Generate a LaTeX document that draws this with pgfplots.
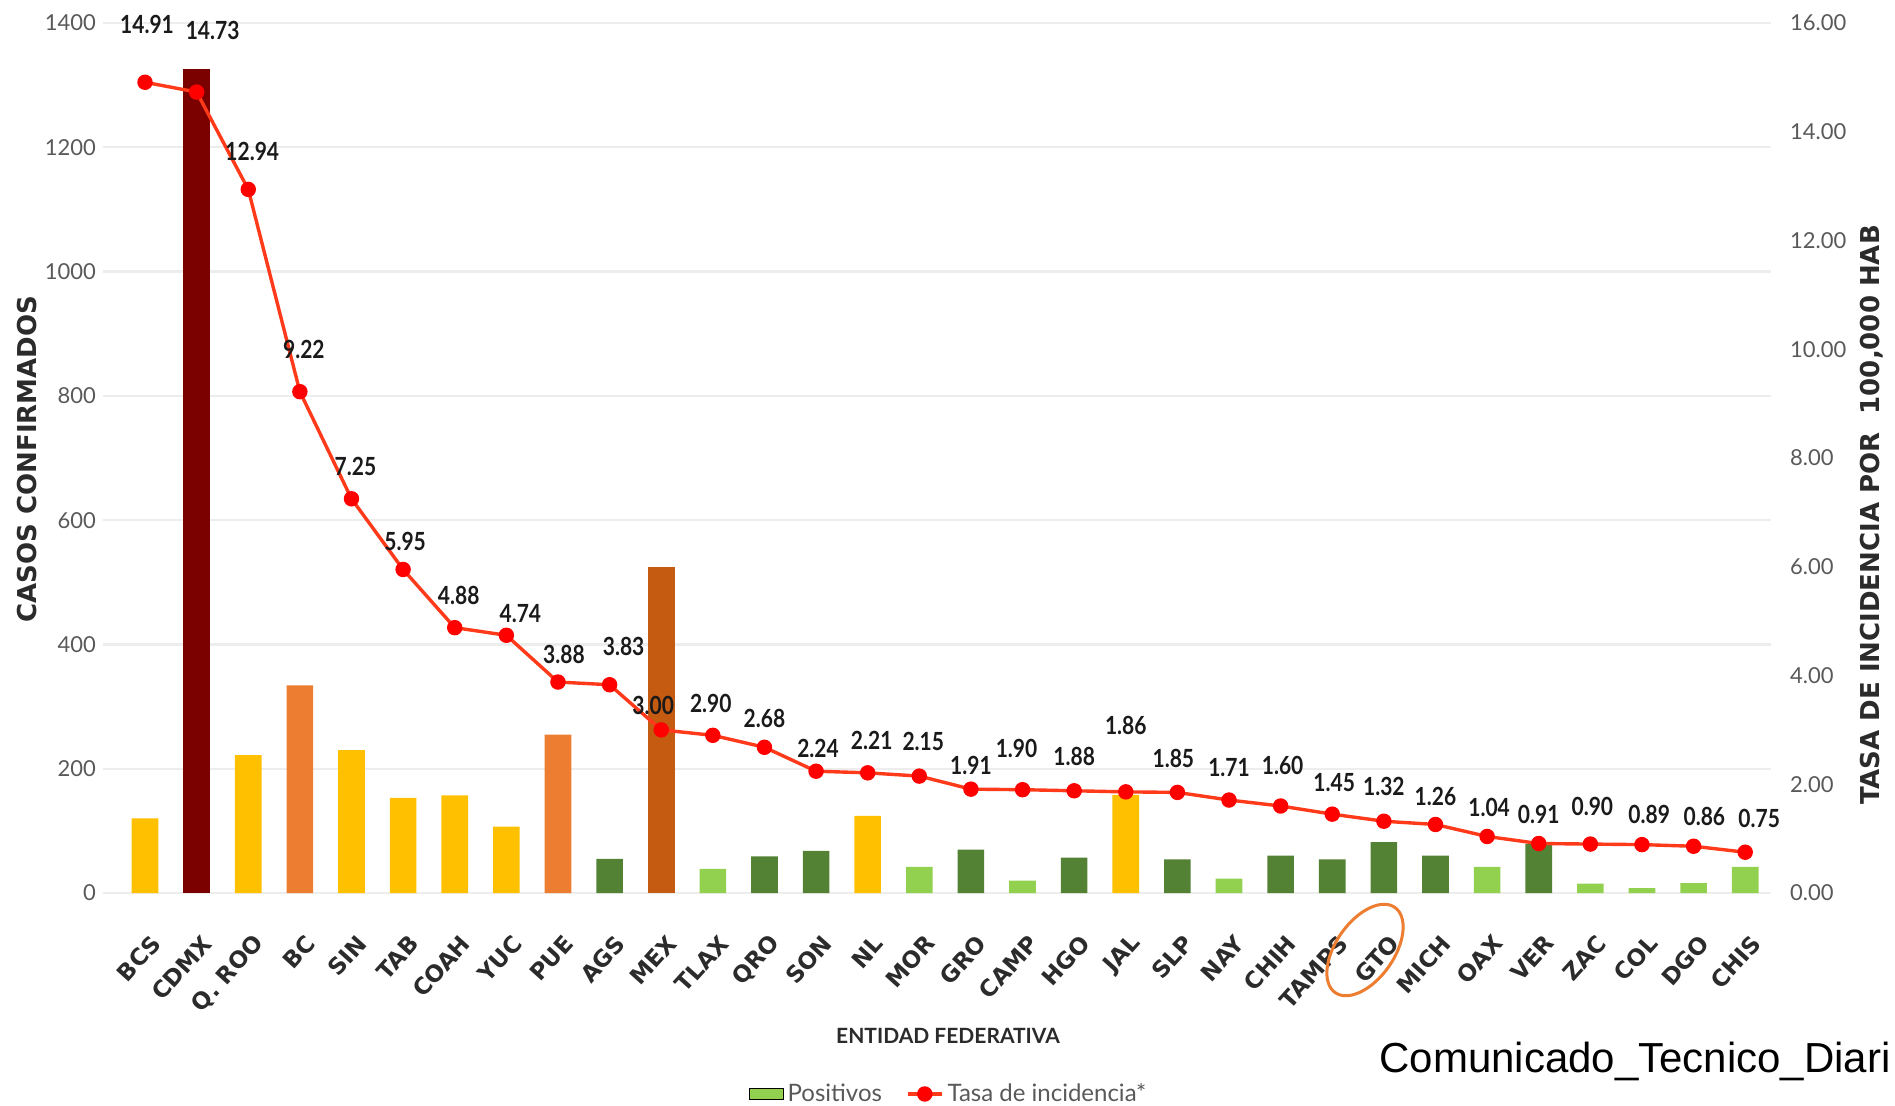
\documentclass[border=0pt]{standalone}
\usepackage{pgfplots}
\pgfplotsset{compat=1.18}
\usepackage{pgfplotstable}
\usepackage{fontspec}
\setmainfont{Lato}
\newfontfamily\condb[FakeStretch=0.84]{Lato}
\newfontfamily\dvs{DejaVu Sans}
\newfontfamily\arial{Liberation Sans}
\definecolor{cYel}{HTML}{FFC000}
\definecolor{cDred}{HTML}{7B0000}
\definecolor{cOra}{HTML}{ED7D31}
\definecolor{cDora}{HTML}{C55A11}
\definecolor{cDgr}{HTML}{548235}
\definecolor{cLgr}{HTML}{92D050}
\definecolor{cLine}{HTML}{FF3A1A}
\definecolor{cMark}{HTML}{FF0000}
\definecolor{cTick}{HTML}{595959}
\definecolor{cGrid}{HTML}{EDEDED}
\definecolor{cLab}{HTML}{1A1A1A}
\definecolor{cTitle}{HTML}{2B2B2B}

\pgfplotstableread{
x y lab dx dy
0 14.91 14.91 1 29
1 14.73 14.73 8 31
2 12.94 12.94 2 19
3 9.22 9.22 2 21
4 7.25 7.25 2 16
5 5.95 5.95 1 14
6 4.88 4.88 2 16
7 4.74 4.74 7 11
8 3.88 3.88 3 14
9 3.83 3.83 7 19
10 3.00 3.00 -4 12
11 2.90 2.90 -1 16
12 2.68 2.68 0 14.5
13 2.24 2.24 1 11.5
14 2.21 2.21 2 16
15 2.15 2.15 2 17.5
16 1.91 1.91 0 12
17 1.90 1.90 -3 20.5
18 1.88 1.88 0 17
19 1.86 1.86 0 33
20 1.85 1.85 -2 17
21 1.71 1.71 0 16
22 1.60 1.60 1 20.5
23 1.45 1.45 1 16
24 1.32 1.32 0 17.5
25 1.26 1.26 0 14
26 1.04 1.04 1 14.5
27 0.91 0.91 0 14.5
28 0.90 0.90 1 19
29 0.89 0.89 3.6 15
30 0.86 0.86 5.4 15
31 0.75 0.75 7 17
}\ratetab

\begin{document}
\begin{tikzpicture}
\path[use as bounding box] (0pt,0pt) rectangle (947.5pt,552.5pt);
\begin{axis}[
  at={(51.5pt,106pt)}, anchor=south west,
  scale only axis, width=834pt, height=435pt,
  xmin=-0.814, xmax=31.5, ymin=0, ymax=1400,
  axis line style={draw=none},
  major tick length=0pt,
  xtick={0,...,31},
  xticklabels={BCS,CDMX,Q. ROO,BC,SIN,TAB,COAH,YUC,PUE,AGS,MEX,TLAX,QRO,SON,NL,MOR,GRO,CAMP,HGO,JAL,SLP,NAY,CHIH,TAMPS,GTO,MICH,OAX,VER,ZAC,COL,DGO,CHIS},
  xticklabel style={rotate=48, anchor=east, font=\dvs\bfseries\fontsize{11.5}{13}\selectfont, text=cTitle, yshift=-19.5pt, xshift=-10pt},
  ytick={0,200,...,1400},
  yticklabels={0,200,400,600,800,1000,1200,1400},
  yticklabel style={font=\fontsize{11}{13}\selectfont, text=cTick},
  ymajorgrids, grid style={cGrid, line width=1.2pt},
  xlabel={ENTIDAD FEDERATIVA},
  every axis x label/.style={at={(axis description cs:0.5066,-0.1640)}, anchor=center, font=\bfseries\fontsize{10.5}{12}\selectfont, text=cTitle},
  ylabel={CASOS CONFIRMADOS},
  every axis y label/.style={at={(axis description cs:-0.0458,0.4989)}, anchor=center, rotate=90, font=\dvs\bfseries\fontsize{13}{15}\selectfont, text=cTitle},
]
\addplot[ybar, bar width=13.3pt, bar shift=0pt, fill=cYel, draw=none] coordinates {(0,120) (2,222) (4,230) (5,153) (6,157) (7,107) (14,124) (19,158)};
\addplot[ybar, bar width=13.3pt, bar shift=0pt, fill=cDred, draw=none] coordinates {(1,1326)};
\addplot[ybar, bar width=13.3pt, bar shift=0pt, fill=cOra, draw=none] coordinates {(3,334) (8,255)};
\addplot[ybar, bar width=13.3pt, bar shift=0pt, fill=cDora, draw=none] coordinates {(10,525)};
\addplot[ybar, bar width=13.3pt, bar shift=0pt, fill=cDgr, draw=none] coordinates {(9,55) (12,59) (13,68) (16,70) (18,57) (20,54) (22,60) (23,54) (24,82) (25,60) (27,79)};
\addplot[ybar, bar width=13.3pt, bar shift=0pt, fill=cLgr, draw=none] coordinates {(11,39) (15,42) (17,20) (21,23) (26,42) (28,15) (29,8) (30,16) (31,42)};
\end{axis}
\begin{axis}[
  at={(51.5pt,106pt)}, anchor=south west,
  scale only axis, width=834pt, height=435pt,
  xmin=-0.814, xmax=31.5, ymin=0, ymax=16,
  axis x line=none,
  axis y line*=right,
  y axis line style={draw=none},
  major tick length=0pt,
  ytick={0,2,...,16},
  yticklabels={0.00,2.00,4.00,6.00,8.00,10.00,12.00,14.00,16.00},
  yticklabel style={font=\fontsize{11}{13}\selectfont, text=cTick, xshift=6pt},
  ylabel={TASA DE INCIDENCIA POR \ 100,000 HAB},
  every axis y label/.style={at={(axis description cs:1.0606,0.4345)}, anchor=center, rotate=90, font=\dvs\bfseries\fontsize{13}{15}\selectfont, text=cTitle},
  legend columns=2,
  legend style={at={(axis description cs:0.5075,-0.231)}, anchor=center, draw=none, fill=none,
    font=\fontsize{12}{14}\selectfont, text=cTick,
    /tikz/every even column/.append style={column sep=10pt}},
]
\addlegendimage{area legend, fill=cLgr, draw=none}
\addlegendentry{Positivos}
\addplot[cLine, line width=1.7pt, mark=*, mark size=3pt, mark options={fill=cMark, draw=cMark},
  point meta=explicit symbolic,
  nodes near coords,
  visualization depends on={\thisrow{dx}\as\dx},
  visualization depends on={\thisrow{dy}\as\dy},
  every node near coord/.append style={anchor=center, xshift=\dx pt, yshift=\dy pt, font=\condb\bfseries\fontsize{12.5}{14}\selectfont, text=cLab, inner sep=0pt},
] table[x=x, y=y, meta=lab] {\ratetab};
\addlegendentry{Tasa de incidencia*}
\end{axis}
\draw[cOra, line width=1.5pt, rotate around={-35:(682.5pt,77.5pt)}] (682.5pt,77.5pt) ellipse (14.5pt and 26pt);
\node[anchor=base west, inner sep=0pt, font=\arial\fontsize{21}{24}\selectfont] at (689.5pt,16.5pt) {Comunicado\_Tecnico\_Diari};
\end{tikzpicture}
\end{document}
